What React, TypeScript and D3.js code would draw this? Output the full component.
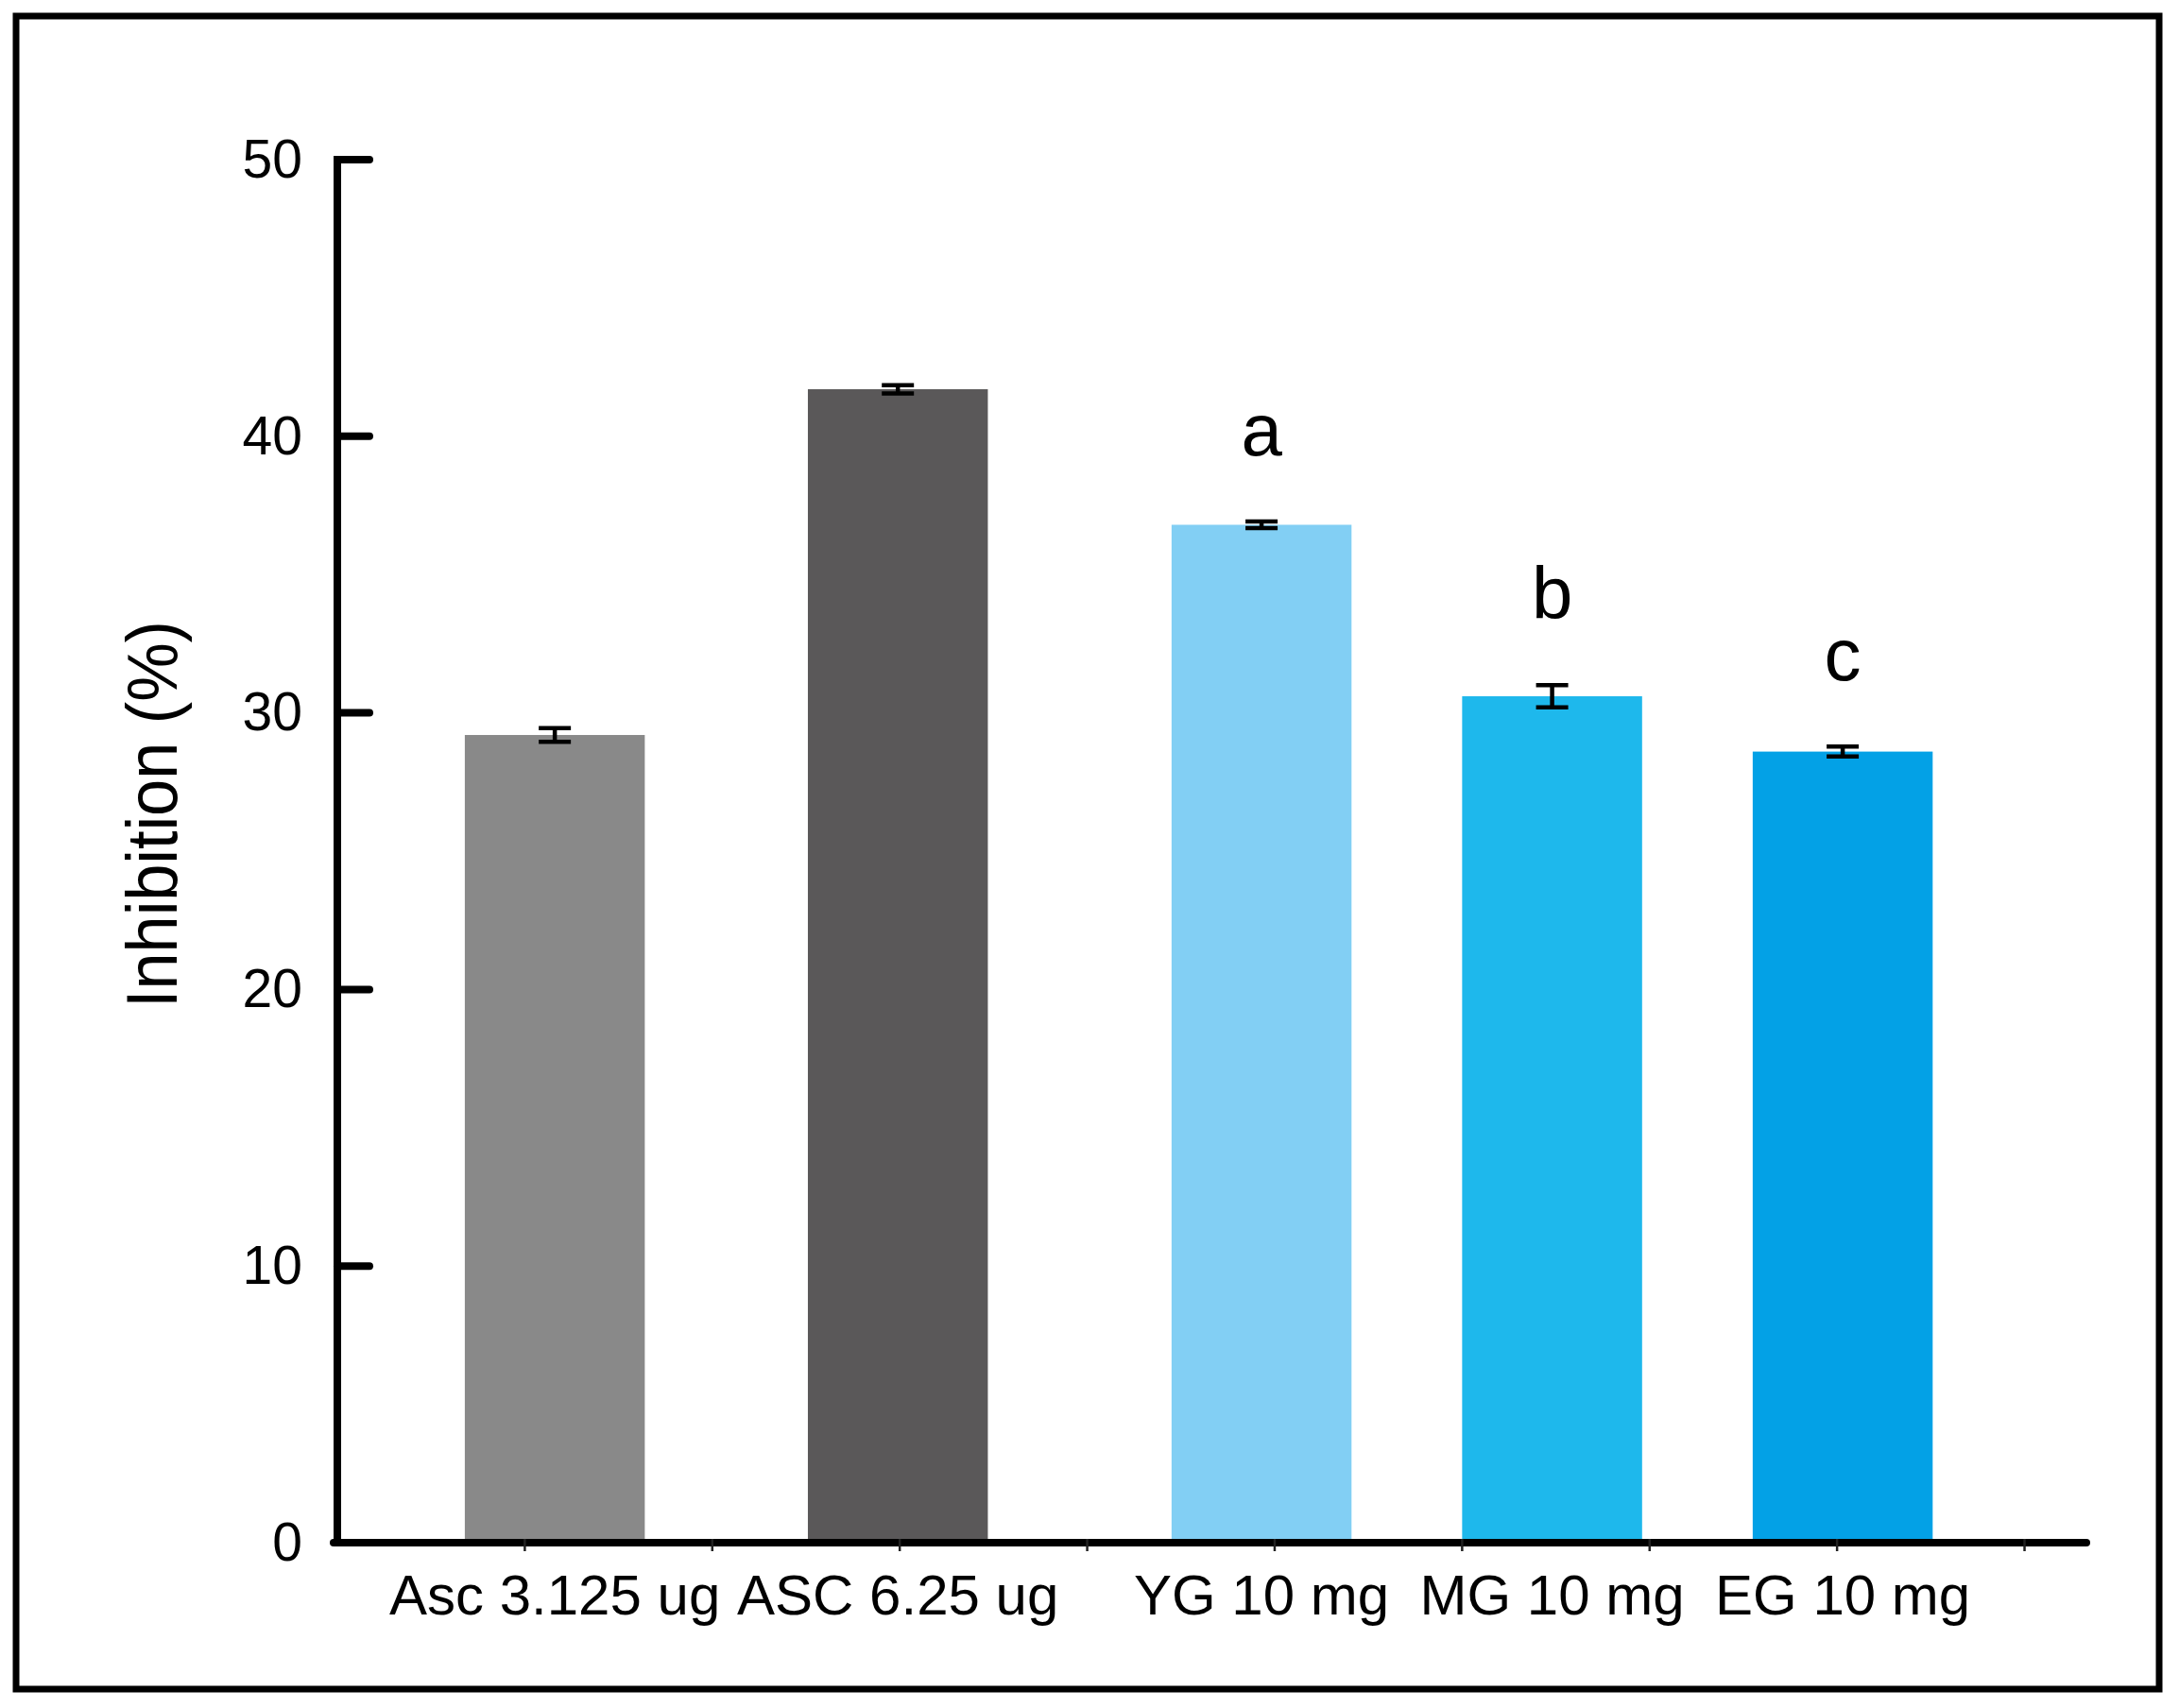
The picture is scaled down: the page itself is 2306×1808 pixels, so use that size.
import React from 'react';
import * as d3 from 'd3';

const categories = ['Asc 3.125 ug', 'ASC 6.25 ug', 'YG 10 mg', 'MG 10 mg', 'EG 10 mg'];
const inhibition = [29.2, 41.7, 36.8, 30.6, 28.6];
const stdErr = [0.25, 0.15, 0.12, 0.4, 0.18];
const sigLetters = ['', '', 'a', 'b', 'c'];
// where each group sits along the (unlabelled) x axis, in axis units
const groupSlot = [1.16, 2.99, 4.93, 6.48, 8.03];
const yTicks = [0, 10, 20, 30, 40, 50];
const barColors = ['#898989', '#5a5859', '#82cff4', '#1eb8ec', '#03a1e6'];

const W = 2306;
const H = 1808;
const font = '"Liberation Sans", Arial, Helvetica, sans-serif';

export default function App() {
  const x = d3.scaleLinear().domain([0, 9.33]).range([357, 2208]);
  const y = d3.scaleLinear().domain([0, 50]).range([1633, 169]);
  const barW = x(0.96) - x(0);
  const minorTicks = d3.range(1, 10);

  return (
    <svg
      width={W}
      height={H}
      style={{ position: 'absolute', left: 0, top: 0, background: '#fff' }}
      fontFamily={font}
    >
      <rect x={0} y={0} width={W} height={H} fill="#fff" />
      <rect x={17} y={17} width={2268} height={1771} fill="none" stroke="#000" strokeWidth={7} />

      {/* bars */}
      {inhibition.map((v, i) => (
        <rect
          key={categories[i]}
          x={x(groupSlot[i]) - barW / 2}
          y={y(v)}
          width={barW}
          height={y(0) - y(v)}
          fill={barColors[i]}
        />
      ))}

      {/* error bars */}
      {inhibition.map((v, i) => {
        const cx = x(groupSlot[i]);
        const hi = y(v + stdErr[i]);
        const lo = y(v - stdErr[i]);
        return (
          <g key={'e' + i} stroke="#000" strokeWidth={4.5}>
            <line x1={cx} x2={cx} y1={hi} y2={lo} />
            <line x1={cx - 17} x2={cx + 17} y1={hi} y2={hi} />
            <line x1={cx - 17} x2={cx + 17} y1={lo} y2={lo} />
          </g>
        );
      })}

      {/* significance letters */}
      {sigLetters.map((s, i) =>
        s ? (
          <text
            key={'s' + i}
            x={x(groupSlot[i])}
            y={y(inhibition[i] + stdErr[i]) - 70}
            textAnchor="middle"
            fontSize={78}
          >
            {s}
          </text>
        ) : null
      )}

      {/* y axis */}
      <line x1={357} x2={357} y1={y(50) - 4} y2={y(0) + 4} stroke="#000" strokeWidth={8} />
      {yTicks.map((t) => (
        <g key={'yt' + t}>
          <line x1={357} x2={391} y1={y(t)} y2={y(t)} stroke="#000" strokeWidth={8} strokeLinecap="round" />
          <text x={320} y={y(t)} dy="0.33em" textAnchor="end" fontSize={57}>
            {t}
          </text>
        </g>
      ))}

      {/* x axis */}
      <line x1={353} x2={2208} y1={y(0)} y2={y(0)} stroke="#000" strokeWidth={8} strokeLinecap="round" />
      {minorTicks.map((t) => (
        <line key={'xt' + t} x1={x(t)} x2={x(t)} y1={y(0) - 4} y2={y(0) + 9} stroke="#222" strokeWidth={2.5} />
      ))}
      {categories.map((c, i) => (
        <text key={'xl' + i} x={x(groupSlot[i])} y={1709} textAnchor="middle" fontSize={60}>
          {c}
        </text>
      ))}

      {/* y title */}
      <text
        transform={`translate(187, ${862}) rotate(-90)`}
        textAnchor="middle"
        fontSize={76}
        textLength={410}
        lengthAdjust="spacingAndGlyphs"
      >
        Inhibition (%)
      </text>
    </svg>
  );
}
